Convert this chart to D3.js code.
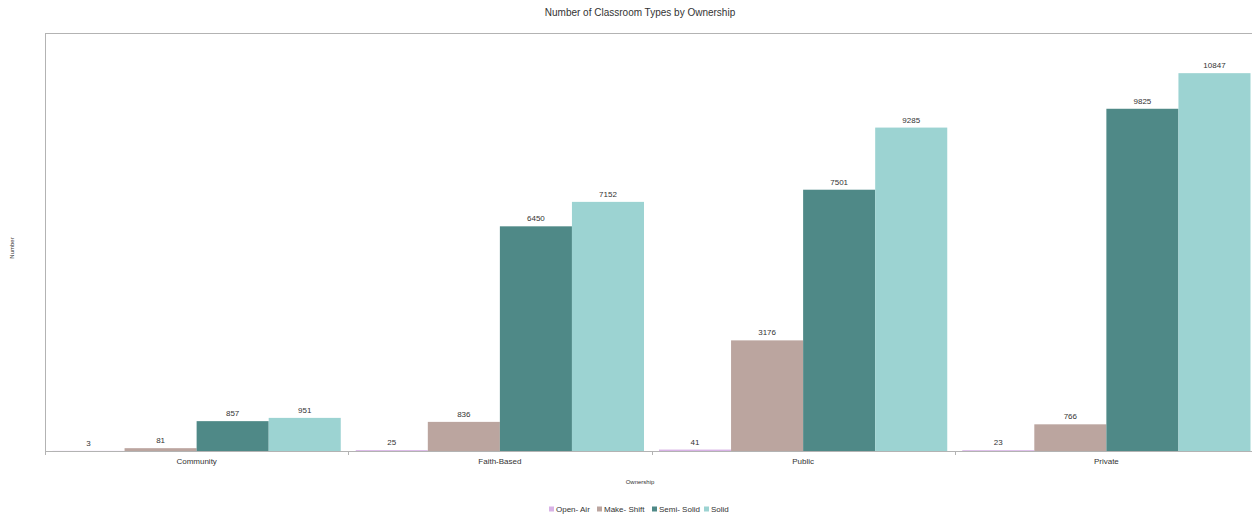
<!DOCTYPE html>
<html>
<head>
<meta charset="utf-8">
<script src="https://cdn.jsdelivr.net/npm/d3@7"></script>
<style>
  html, body { margin: 0; padding: 0; background: #fff; }
  svg { display: block; font-family: "Liberation Sans", Arial, sans-serif; }
</style>
</head>
<body>
<svg id="chart" width="1252" height="516"></svg>
<script>
const categories = ["Community", "Faith-Based", "Public", "Private"];
const seriesNames = ["Open- Air", "Make- Shift", "Semi- Solid", "Solid"];
const openAir   = [3, 25, 41, 23];
const makeShift = [81, 836, 3176, 766];
const semiSolid = [857, 6450, 7501, 9825];
const solid     = [951, 7152, 9285, 10847];
const seriesColors = ["#d8b2e6", "#bba59f", "#4f8987", "#9cd3d2"];
const yMax = 12000;

(function () {
const seriesValues = [openAir, makeShift, semiSolid, solid];

const svg = d3.select("#chart");
const mLeft = 45, mRight = 1258, mTop = 33, mBottom = 451;

const x0 = d3.scaleBand().domain(categories).range([mLeft, mRight]).paddingInner(0).paddingOuter(0);
const x1 = d3.scaleBand().domain(seriesNames).range([0, x0.bandwidth()]).paddingInner(0).paddingOuter(0.104);
const y = d3.scaleLinear().domain([0, yMax]).range([mBottom, mTop]);

// title
svg.append("text").attr("x", 640).attr("y", 16).attr("text-anchor", "middle")
  .attr("font-size", 10).attr("fill", "#333").text("Number of Classroom Types by Ownership");

// frame lines
svg.append("line").attr("x1", mLeft).attr("x2", 1252).attr("y1", mTop + 0.5).attr("y2", mTop + 0.5)
  .attr("stroke", "#b3b3b3").attr("stroke-width", 1);
svg.append("line").attr("x1", mLeft + 0.5).attr("x2", mLeft + 0.5).attr("y1", mTop).attr("y2", mBottom)
  .attr("stroke", "#b3b3b3").attr("stroke-width", 1);

// bars
const groups = svg.append("g").selectAll("g").data(categories).join("g")
  .attr("transform", d => `translate(${x0(d)},0)`);

groups.each(function(cat, ci) {
  const g = d3.select(this);
  seriesNames.forEach((s, si) => {
    const v = seriesValues[si][ci];
    g.append("rect")
      .attr("x", x1(s))
      .attr("y", y(v))
      .attr("width", x1.bandwidth())
      .attr("height", Math.max(mBottom - y(v), 0))
      .attr("fill", seriesColors[si]);
    g.append("text")
      .attr("x", x1(s) + x1.bandwidth() / 2)
      .attr("y", y(v) - 5)
      .attr("text-anchor", "middle")
      .attr("font-size", 8)
      .attr("fill", "#333")
      .text(v);
  });
});

// x axis
const xAxis = d3.axisBottom(x0).tickSize(0).tickPadding(7);
const xg = svg.append("g").attr("transform", `translate(0,${mBottom})`).call(xAxis);
xg.select(".domain").attr("stroke", "#b3b3b3").attr("d", `M${mLeft},0.5H1252`);
xg.selectAll("text").attr("font-size", 8).attr("fill", "#333").attr("font-family", "Liberation Sans, Arial, sans-serif");
// boundary ticks
const bounds = categories.map(c => x0(c));
svg.append("g").selectAll("line").data(bounds).join("line")
  .attr("x1", d => Math.round(d) + 0.5).attr("x2", d => Math.round(d) + 0.5)
  .attr("y1", mBottom).attr("y2", mBottom + 4)
  .attr("stroke", "#b3b3b3");

// axis titles
svg.append("text").attr("x", 640).attr("y", 484).attr("text-anchor", "middle")
  .attr("font-size", 6).attr("fill", "#333").text("Ownership");
svg.append("text").attr("transform", "translate(14,248) rotate(-90)").attr("text-anchor", "middle")
  .attr("font-size", 6).attr("fill", "#333").text("Number");

// legend
const legendX = [549, 597, 652, 704];
const lg = svg.append("g");
seriesNames.forEach((s, i) => {
  lg.append("rect").attr("x", legendX[i]).attr("y", 506.5).attr("width", 5).attr("height", 5).attr("fill", seriesColors[i]);
  lg.append("text").attr("x", legendX[i] + 7).attr("y", 512).attr("font-size", 8).attr("fill", "#333").text(s);
});
})();
</script>
</body>
</html>
